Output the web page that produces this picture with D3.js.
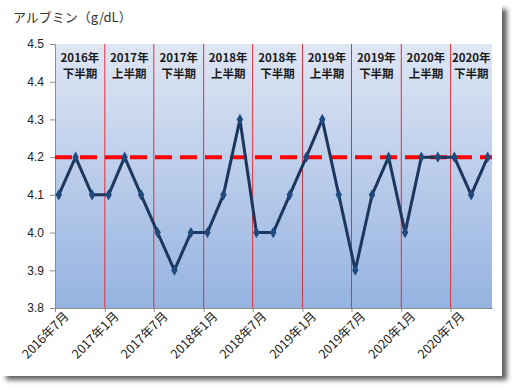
<!DOCTYPE html>
<html>
<head>
<meta charset="utf-8">
<script src="https://cdn.jsdelivr.net/npm/d3@7"></script>
<style>
  body { margin: 0; background: #fff; }
  text { font-family: "Noto Sans CJK JP", "Noto Sans", sans-serif; }
</style>
</head>
<body>
<div id="chart"></div>
<script>
// measurements, every 2 months (mid-month)
const dates = ["2016-07-15","2016-09-15","2016-11-15","2017-01-15","2017-03-15","2017-05-15",
  "2017-07-15","2017-09-15","2017-11-15","2018-01-15","2018-03-15","2018-05-15",
  "2018-07-15","2018-09-15","2018-11-15","2019-01-15","2019-03-15","2019-05-15",
  "2019-07-15","2019-09-15","2019-11-15","2020-01-15","2020-03-15","2020-05-15",
  "2020-07-15","2020-09-15","2020-11-15"];
const albumin = [4.1,4.2,4.1,4.1,4.2,4.1, 4.0,3.9,4.0,4.0,4.1,4.3, 4.0,4.0,4.1,4.2,4.3,4.1,
  3.9,4.1,4.2,4.0,4.2,4.2, 4.2,4.1,4.2];
const target = 4.2;

const tickDates = ["2016-07-01","2017-01-01","2017-07-01","2018-01-01","2018-07-01",
  "2019-01-01","2019-07-01","2020-01-01","2020-07-01"];
const tickLabels = ["2016年7月","2017年1月","2017年7月","2018年1月","2018年7月",
  "2019年1月","2019年7月","2020年1月","2020年7月"];
const periodYears = ["2016年","2017年","2017年","2018年","2018年","2019年","2019年","2020年","2020年"];
const periodHalves = ["下半期","上半期","下半期","上半期","下半期","上半期","下半期","上半期","下半期"];
const yTicks = [3.8,3.9,4.0,4.1,4.2,4.3,4.4,4.5];

const W = 518, H = 392;
const parse = d3.timeParse("%Y-%m-%d");
const endDate = parse("2020-12-01");

const svg = d3.select("#chart").append("svg")
  .attr("width", W).attr("height", H);

const defs = svg.append("defs");
defs.append("filter").attr("id", "blur")
  .attr("x", "-10%").attr("y", "-10%").attr("width", "120%").attr("height", "120%")
  .append("feGaussianBlur").attr("stdDeviation", 2.5);
const grad = defs.append("linearGradient").attr("id", "bg")
  .attr("x1", 0).attr("y1", 0).attr("x2", 0).attr("y2", 1);
grad.append("stop").attr("offset", "0%").attr("stop-color", "#dfe6f4");
grad.append("stop").attr("offset", "100%").attr("stop-color", "#95b3e1");

// card with shadow
svg.append("rect").attr("x", 6).attr("y", 9).attr("width", 501).attr("height", 371)
  .attr("fill", "#5e5e5e").attr("filter", "url(#blur)");
svg.append("rect").attr("x", 0).attr("y", 0).attr("width", 502).attr("height", 376)
  .attr("fill", "#fff");

const x = d3.scaleTime()
  .domain([parse(tickDates[0]), endDate])
  .range([55, 492]);
const y = d3.scaleLinear()
  .domain([3.8, 4.5])
  .range([308, 44]);

// plot area
svg.append("rect")
  .attr("x", x.range()[0]).attr("y", y(4.5))
  .attr("width", x.range()[1] - x.range()[0]).attr("height", y(3.8) - y(4.5))
  .attr("fill", "url(#bg)");

// half-year separators
svg.append("g").selectAll("line")
  .data(tickDates.slice(1))
  .join("line")
    .attr("x1", d => x(parse(d))).attr("x2", d => x(parse(d)))
    .attr("y1", y(4.5)).attr("y2", y(3.8))
    .attr("stroke", "#e0303a").attr("stroke-width", 1);

// period labels
const bounds = tickDates.map(d => x(parse(d))).concat([x(endDate)]);
const periods = svg.append("g")
  .attr("font-size", 11.5).attr("font-weight", "bold").attr("fill", "#1a1a1a")
  .attr("text-anchor", "middle");
periodYears.forEach(function(py, i) {
  const cx = (bounds[i] + bounds[i + 1]) / 2;
  periods.append("text").attr("x", cx).attr("y", 62).text(py);
  periods.append("text").attr("x", cx).attr("y", 78).text(periodHalves[i]);
});

// y axis
const yAxis = svg.append("g")
  .attr("transform", `translate(${x.range()[0]},0)`)
  .call(d3.axisLeft(y).tickValues(yTicks).tickFormat(d3.format(".1f")).tickSize(5).tickSizeOuter(0));
yAxis.select(".domain").attr("stroke", "#8c8c8c");
yAxis.selectAll(".tick line").attr("stroke", "#8c8c8c");
yAxis.selectAll(".tick text")
  .attr("font-size", 12).attr("fill", "#222").attr("x", -11)
  .style("font-family", "'Liberation Sans', Arial, sans-serif");

// x axis
const xAxis = svg.append("g")
  .attr("transform", `translate(0,${y(3.8)})`)
  .call(d3.axisBottom(x).tickValues(tickDates.map(parse))
    .tickFormat((d, i) => tickLabels[i]).tickSize(4).tickSizeOuter(0));
xAxis.select(".domain").attr("stroke", "#8c8c8c");
xAxis.selectAll(".tick line").attr("stroke", "#8c8c8c");
xAxis.selectAll(".tick text")
  .attr("font-size", 12.5).attr("fill", "#222")
  .attr("text-anchor", "end")
  .attr("transform", "translate(8,3) rotate(-45)")
  .attr("x", 0).attr("y", 0).attr("dy", "0.7em");

// target line
svg.append("line")
  .attr("x1", x.range()[0]).attr("x2", x.range()[1])
  .attr("y1", y(target)).attr("y2", y(target))
  .attr("stroke", "#ff0000").attr("stroke-width", 4)
  .attr("stroke-dasharray", "17,8");

// data line
const pts = dates.map((d, i) => ({ date: parse(d), value: albumin[i] }));
svg.append("path")
  .datum(pts)
  .attr("fill", "none")
  .attr("stroke", "#1c365e")
  .attr("stroke-width", 3)
  .attr("stroke-linejoin", "round")
  .attr("d", d3.line().x(d => x(d.date)).y(d => y(d.value)));

svg.append("g").selectAll("path")
  .data(pts)
  .join("path")
    .attr("transform", d => `translate(${x(d.date)},${y(d.value)})`)
    .attr("d", d3.symbol(d3.symbolDiamond, 36))
    .attr("fill", "#1f4a7d");

// title
svg.append("text")
  .attr("x", 13).attr("y", 22)
  .attr("font-size", 13).attr("fill", "#333")
  .text("アルブミン（g/dL）");
</script>
</body>
</html>
